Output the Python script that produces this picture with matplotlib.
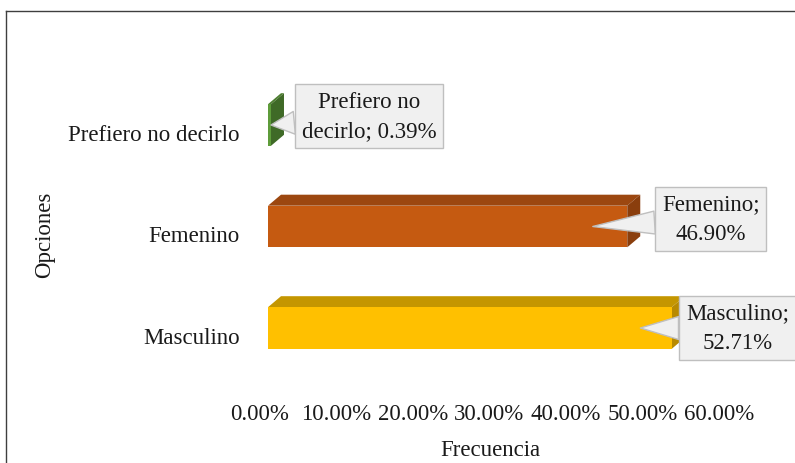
import matplotlib
matplotlib.use("Agg")
import matplotlib.pyplot as plt
from matplotlib.patches import Polygon
from matplotlib.lines import Line2D
from matplotlib.transforms import blended_transform_factory, offset_copy

plt.rcParams['font.family'] = ['Liberation Serif', 'DejaVu Serif']

# ---- data ----
categories = ["Masculino", "Femenino", "Prefiero no decirlo"]
values = [52.71, 46.90, 0.39]
label_texts = ["Masculino;\n52.71%", "Femenino;\n46.90%", "Prefiero no\ndecirlo; 0.39%"]
xticks = [0, 10, 20, 30, 40, 50, 60]
xtick_labels = ["0.00%", "10.00%", "20.00%", "30.00%", "40.00%", "50.00%", "60.00%"]

front_colors = ["#FFC000", "#C55A11", "#5E9C3A"]
top_colors = ["#C49600", "#9C4710", "#4E7F31"]
side_colors = ["#B88A00", "#8A3E0D", "#3F6A27"]

W, H = 795, 464
DPI = 100
fig = plt.figure(figsize=(W / DPI, H / DPI), dpi=DPI)

# axes placement in pixels
x0_px, x60_px = 268, 268 + 7.66 * 60
y_bot_px, y_top_px = 379.75, 75.25
ax = fig.add_axes([x0_px / W, 1 - y_bot_px / H, (x60_px - x0_px) / W, (y_bot_px - y_top_px) / H])
ax.set_xlim(0, 60)
ax.set_ylim(-0.5, 2.5)
ax.axis("off")

pos = list(range(len(categories)))
h = 0.41
dx = 13 / 7.66
dy = 11 / 101.5

ax.barh(pos, values, height=h, color=front_colors, zorder=2)
for p, v, tc, sc in zip(pos, values, top_colors, side_colors):
    top = Polygon([(0, p + h / 2), (v, p + h / 2), (v + dx, p + h / 2 + dy), (dx, p + h / 2 + dy)],
                  closed=True, facecolor=tc, edgecolor="none", zorder=1, clip_on=False)
    side = Polygon([(v, p - h / 2), (v, p + h / 2), (v + dx, p + h / 2 + dy), (v + dx, p - h / 2 + dy)],
                   closed=True, facecolor=sc, edgecolor="none", zorder=1, clip_on=False)
    ax.add_patch(top)
    ax.add_patch(side)

FS = 16.5
TC = "#1A1A1A"
# x tick labels
xt = offset_copy(blended_transform_factory(ax.transData, ax.transAxes), fig=fig, x=-8.5, y=-35, units='dots')
for t, lab in zip(xticks, xtick_labels):
    ax.text(t, 0, lab, transform=xt, ha="center", va="center", fontsize=FS, color=TC, clip_on=False)

# y tick labels
yt = offset_copy(blended_transform_factory(ax.transAxes, ax.transData), fig=fig, x=-28, y=-9, units='dots')
for p, c in zip(pos, categories):
    ax.text(0, p, c, transform=yt, ha="right", va="center", fontsize=FS, color=TC, clip_on=False)

# axis titles
fig.text(490 / W, 1 - 451 / H, "Frecuencia", ha="center", va="center", fontsize=FS, color=TC)
fig.text(45 / W, 1 - 235 / H, "Opciones", ha="center", va="center", rotation=90, fontsize=FS, color=TC)

# data label callouts
tip_shift = [4.1, 4.5, 0.0]
offsets = [(97, 0), (118, 7.5), (98, 9)]
for p, v, txt, ts, off in zip(pos, values, label_texts, tip_shift, offsets):
    ax.annotate(txt, xy=(v - ts, p), xytext=off, textcoords="offset pixels",
                ha="center", va="center", fontsize=FS, color=TC, linespacing=1.55,
                annotation_clip=False, zorder=5,
                bbox=dict(boxstyle="square,pad=0.3", fc="#F0F0F0", ec="#BFBFBF", lw=1),
                arrowprops=dict(arrowstyle="wedge,tail_width=1.0,shrink_factor=0.5",
                                fc="#F0F0F0", ec="#BFBFBF", lw=1, shrinkA=0, shrinkB=0))

# outer frame (left and top edges visible)
fig.add_artist(Line2D([6 / W, 6 / W], [0, 1 - 12 / H], transform=fig.transFigure, color="#3F3F3F", lw=1))
fig.add_artist(Line2D([6 / W, 1], [1 - 12 / H, 1 - 12 / H], transform=fig.transFigure, color="#3F3F3F", lw=1))

fig.savefig("out.png", dpi=DPI)
